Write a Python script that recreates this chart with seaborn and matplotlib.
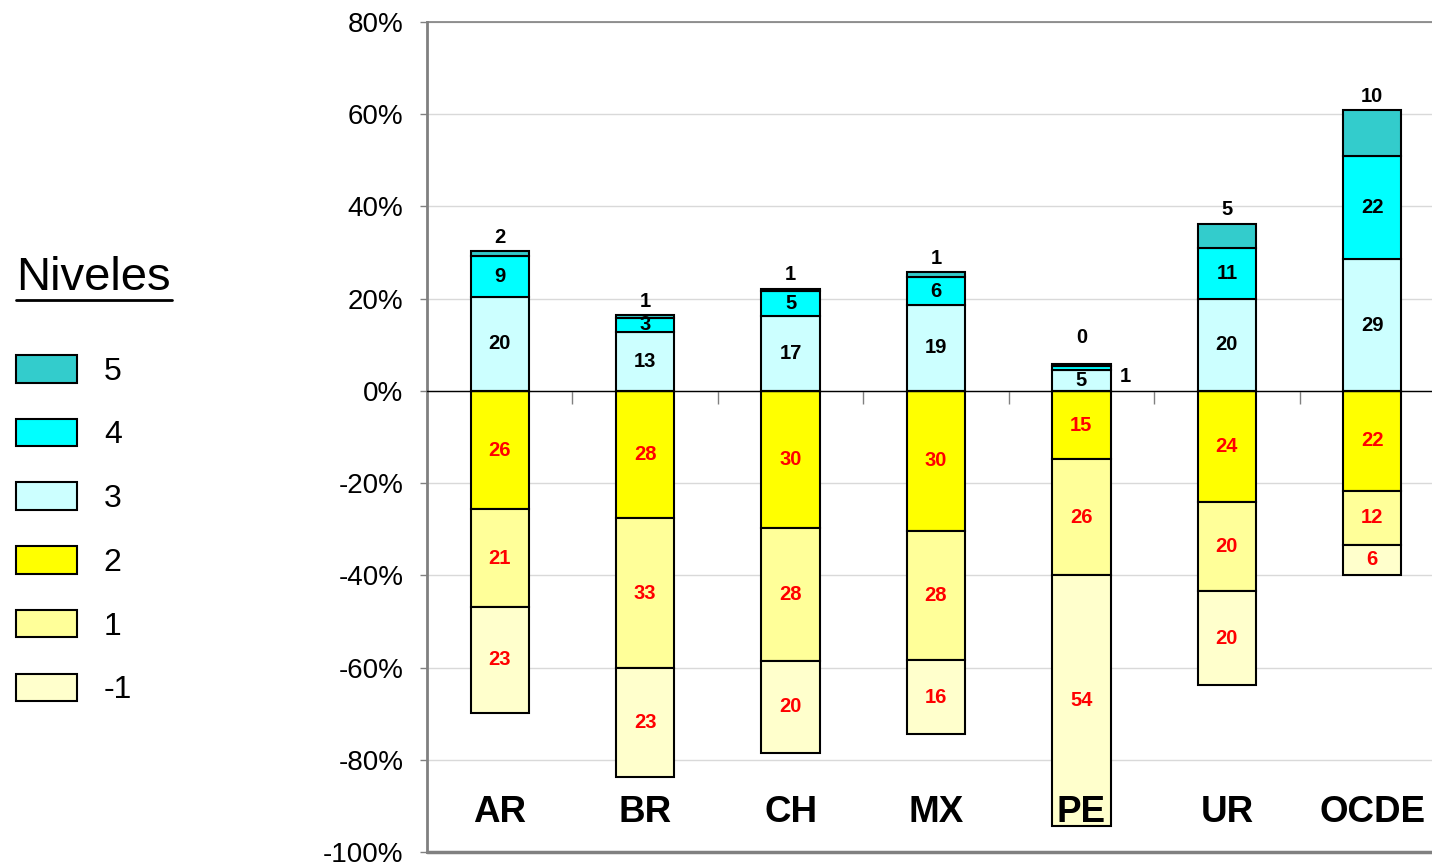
import matplotlib.pyplot as plt
import numpy as np
import seaborn as sns
from matplotlib.lines import Line2D
from matplotlib.patches import Patch
from matplotlib.ticker import FuncFormatter

sns.set_theme(style="white")
plt.rcParams["font.family"] = ["Liberation Sans", "DejaVu Sans"]
plt.rcParams["text.color"] = "black"

countries = ["AR", "BR", "CH", "MX", "PE", "UR", "OCDE"]

# positive side (% of students), stacked from zero upward
lvl3 = [20.4, 12.8, 16.3, 18.7, 4.6, 20.0, 28.5]
lvl4 = [8.9, 3.0, 5.4, 5.9, 0.9, 10.9, 22.4]
lvl5 = [1.1, 0.7, 0.5, 1.1, 0.4, 5.4, 10.0]
# negative side, stacked from zero downward
lvl2 = [25.7, 27.6, 29.8, 30.4, 14.8, 24.1, 21.7]
lvl1 = [21.1, 32.6, 28.7, 28.0, 25.2, 19.3, 11.7]
lvlm1 = [23.0, 23.5, 20.0, 16.1, 54.3, 20.4, 6.5]

# labels as printed on the chart
lab5 = ["2", "1", "1", "1", "0", "5", "10"]
lab4 = ["9", "3", "5", "6", "1", "11", "22"]
lab3 = ["20", "13", "17", "19", "5", "20", "29"]
lab2 = ["26", "28", "30", "30", "15", "24", "22"]
lab1 = ["21", "33", "28", "28", "26", "20", "12"]
labm1 = ["23", "23", "20", "16", "54", "20", "6"]

_C5 = "#33CCCC"
_C4 = "#00FFFF"
_C3 = "#CCFFFF"
_C2 = "#FFFF00"
_C1 = "#FFFF99"
_CM1 = "#FFFFCC"
_GRID = "#D9D9D9"
_FRAME = "#808080"

W, H = 1432, 863
fig = plt.figure(figsize=(W / 100, H / 100), dpi=100)
ax = fig.add_axes([427 / W, 1 - 852 / H, (1445 - 427) / W, (852 - 22) / H])

bar_kw = dict(width=0.4, edgecolor="black", linewidth=1.5, saturation=1,
              errorbar=None, ax=ax)
lbl_kw = dict(fontsize=14.5, fontweight="bold")

# ── positive stack ────────────────────────────────────────────
bottom = np.zeros(len(countries))
pos = [(lvl3, _C3, lab3), (lvl4, _C4, lab4), (lvl5, _C5, lab5)]
containers = []
for vals, color, labs in pos:
    sns.barplot(x=countries, y=vals, bottom=bottom, color=color, **bar_kw)
    containers.append(ax.containers[-1])
    bottom = bottom + np.array(vals)

ax.bar_label(containers[0], labels=lab3, label_type="center", color="black", **lbl_kw)
ax.bar_label(containers[1], labels=[l if c != "PE" else "" for l, c in zip(lab4, countries)],
             label_type="center", color="black", **lbl_kw)
ax.bar_label(containers[2], labels=[l if c != "PE" else "" for l, c in zip(lab5, countries)],
             label_type="edge", padding=3, color="black", **lbl_kw)

# PE has tiny top segments: Excel moved those labels around
pe = countries.index("PE")
p4 = containers[1].patches[pe]
ax.annotate(lab4[pe], xy=(p4.get_x() + p4.get_width(), p4.get_y()),
            xytext=(7, -5), textcoords="offset points", va="center", ha="left",
            color="black", **lbl_kw)
p5 = containers[2].patches[pe]
ax.annotate(lab5[pe], xy=(p5.get_x() + p5.get_width() / 2, p5.get_y() + p5.get_height()),
            xytext=(0, 12), textcoords="offset points", va="bottom", ha="center",
            color="black", **lbl_kw)

# ── negative stack ────────────────────────────────────────────
bottom = np.zeros(len(countries))
for vals, color, labs in [(lvl2, _C2, lab2), (lvl1, _C1, lab1), (lvlm1, _CM1, labm1)]:
    neg = -np.array(vals)
    sns.barplot(x=countries, y=neg, bottom=bottom, color=color, **bar_kw)
    ax.bar_label(ax.containers[-1], labels=labs, label_type="center", color="red", **lbl_kw)
    bottom = bottom + neg

# ── axes styling ──────────────────────────────────────────────
ax.set_xlim(-0.5, len(countries) - 0.5)
ax.set_ylim(-100, 80)
ax.set_yticks(np.arange(-100, 81, 20))
ax.yaxis.set_major_formatter(FuncFormatter(lambda v, _: f"{v:.0f}%"))
ax.set_xticks(np.arange(0.5, len(countries) - 0.5, 1))
ax.set_xticklabels([])
ax.set_xlabel("")
ax.set_ylabel("")
ax.tick_params(axis="y", left=True, length=5, width=1, color=_FRAME, pad=12,
               labelsize=20, labelcolor="black")
ax.tick_params(axis="x", bottom=True, length=9.5, width=1, color=_FRAME, direction="out")

ax.yaxis.grid(True, color=_GRID, linewidth=1)
ax.set_axisbelow(True)

ax.spines["bottom"].set_position(("data", 0))
ax.spines["bottom"].set_color("black")
ax.spines["bottom"].set_linewidth(1)
ax.spines["left"].set_color(_FRAME)
ax.spines["left"].set_linewidth(2)
ax.spines["top"].set_color(_FRAME)
ax.spines["top"].set_linewidth(1.2)
ax.spines["right"].set_visible(False)
ax.axhline(-100, color=_FRAME, linewidth=2.5, clip_on=False, zorder=3)

# category names sit inside the plot area near the bottom
for i, name in enumerate(countries):
    ax.text(i, 0.048, name, transform=ax.get_xaxis_transform(), ha="center", va="center",
            fontsize=26.5, fontweight="bold", color="black", zorder=6)

# ── legend ────────────────────────────────────────────────────
levels = ["5", "4", "3", "2", "1", "-1"]
colors = [_C5, _C4, _C3, _C2, _C1, _CM1]
handles = [Patch(facecolor=c, edgecolor="black", linewidth=1.5) for c in colors]
fig.legend(handles, levels, loc="upper left", bbox_to_anchor=(16 / W, 1 - 355 / H),
           frameon=False, fontsize=23, handlelength=1.9, handleheight=0.95,
           labelspacing=1.0, handletextpad=0.85, borderpad=0, borderaxespad=0,
           labelcolor="black")

fig.text(16 / W, 1 - 278 / H, "Niveles", fontsize=34, ha="left", va="center", color="black")
fig.add_artist(Line2D([16 / W, 172 / W], [1 - 300 / H, 1 - 300 / H], color="black",
                      linewidth=2, transform=fig.transFigure))

fig.savefig("out.png", dpi=100)
